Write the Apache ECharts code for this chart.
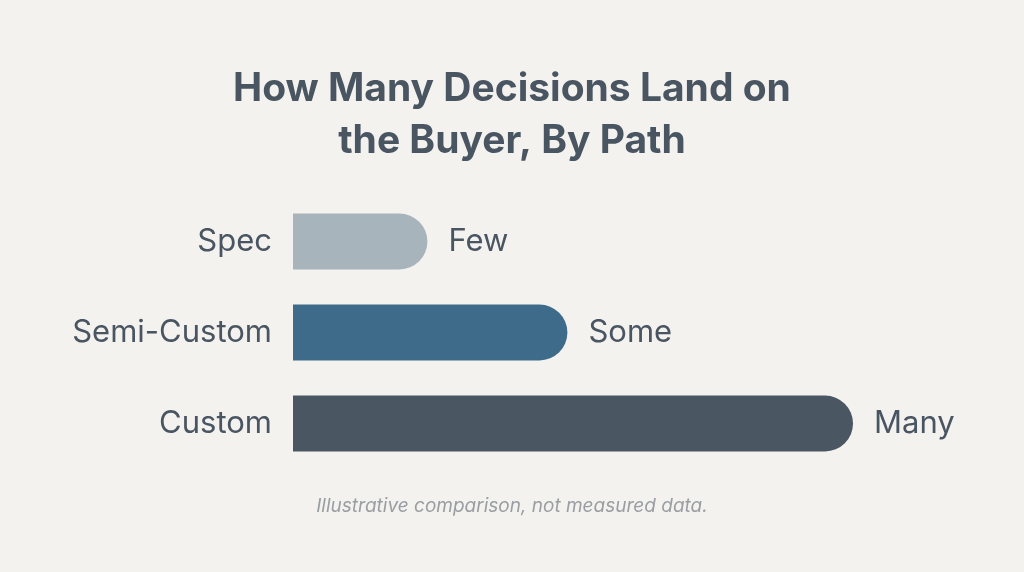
<!DOCTYPE html>
<html><head><meta charset="utf-8">
<script src="https://cdn.jsdelivr.net/npm/echarts@6/dist/echarts.min.js"></script>
<style>html,body{margin:0;padding:0;background:#f3f2ef}#c{width:1024px;height:572px}</style>
</head><body><div id="c"></div>
<script>
const categories = ['Spec', 'Semi-Custom', 'Custom'];
const values = [24, 49, 100];
const valueLabels = ['Few', 'Some', 'Many'];
const colors = ['#a7b4bc', '#3f6b8a', '#4a5662'];
const chart = echarts.init(document.getElementById('c'));
chart.setOption({
  backgroundColor: '#f3f2ef',
  title: {
    text: 'How Many Decisions Land on\nthe Buyer, By Path',
    left: 'center', top: 58,
    textStyle: { fontFamily: 'Inter', fontSize: 39, fontWeight: 'bold', color: '#4a5562', lineHeight: 52 }
  },
  graphic: [{
    type: 'text', left: 'center', top: 497,
    style: { text: 'Illustrative comparison, not measured data.', fontFamily: 'Inter', fontStyle: 'italic', fontSize: 19, fill: '#9a9ea3' }
  }],
  grid: { left: 293, width: 560, top: 196, height: 273 },
  xAxis: { type: 'value', min: 0, max: 100, show: false },
  yAxis: {
    type: 'category', data: categories, inverse: true,
    axisLine: { show: false }, axisTick: { show: false },
    axisLabel: { fontFamily: 'Inter', fontSize: 31, color: '#4a5562', margin: 21 }
  },
  series: [{
    type: 'bar', barWidth: 56,
    data: values.map((v, i) => ({ value: v, itemStyle: { color: colors[i], borderRadius: [0, 28, 28, 0] } })),
    label: {
      show: true, position: 'right', distance: 21,
      formatter: p => valueLabels[p.dataIndex],
      fontFamily: 'Inter', fontSize: 31, color: '#4a5562'
    }
  }]
});
</script></body></html>
